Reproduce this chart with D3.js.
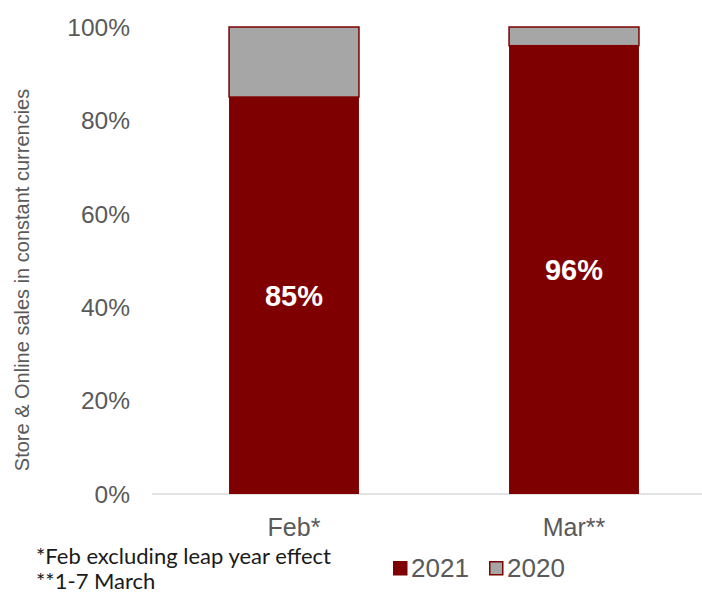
<!DOCTYPE html>
<html>
<head>
<meta charset="utf-8">
<script src="https://cdn.jsdelivr.net/npm/d3@7"></script>
<style>
  body { margin: 0; background: #fff; }
</style>
</head>
<body>
<div id="chart"></div>
<script>
// data
const categories = ["Feb*", "Mar**"];
const share2021 = [0.85, 0.96];
const share2020 = [0.15, 0.04];
const valueLabels = ["85%", "96%"];
const yTicks = [0, 0.2, 0.4, 0.6, 0.8, 1.0];
const seriesNames = ["2021", "2020"];
const footnotes = ["*Feb excluding leap year effect", "**1-7 March"];

const width = 702;
const height = 594;
const red = "#7f0000";
const grey = "#a6a6a6";
const sans = "'Liberation Sans', Arial, sans-serif";

const svg = d3.select("#chart")
  .append("svg")
  .attr("width", width)
  .attr("height", height)
  .style("font-family", sans);

// Scales
const x = d3.scaleBand()
  .domain(categories)
  .range([154, 714])
  .paddingInner(0.536)
  .paddingOuter(0.268);

const y = d3.scaleLinear()
  .domain([0, 1])
  .range([494, 27]);

// baseline
svg.append("line")
  .attr("x1", 152).attr("x2", width)
  .attr("y1", y(0)).attr("y2", y(0))
  .attr("stroke", "#d9d9d9")
  .attr("stroke-width", 1.5);

// y tick labels
svg.append("g")
  .selectAll("text")
  .data(yTicks)
  .enter()
  .append("text")
  .attr("x", 130)
  .attr("y", d => y(d))
  .attr("dy", "0.36em")
  .attr("text-anchor", "end")
  .attr("font-size", "24.5px")
  .attr("fill", "#595959")
  .text(d => d3.format(".0%")(d));

// axis title
svg.append("text")
  .attr("transform", "translate(29, 280) rotate(-90)")
  .attr("text-anchor", "middle")
  .attr("font-size", "20px")
  .attr("fill", "#595959")
  .text("Store & Online sales in constant currencies");

const rows = categories.map((c, i) => ({ cat: c, a: share2021[i], b: share2020[i], label: valueLabels[i] }));

// 2021 segments
svg.append("g")
  .selectAll("rect")
  .data(rows)
  .enter()
  .append("rect")
  .attr("x", d => x(d.cat))
  .attr("y", d => y(d.a))
  .attr("width", x.bandwidth())
  .attr("height", d => y(0) - y(d.a))
  .attr("fill", red);

// 2020 segments
svg.append("g")
  .selectAll("rect")
  .data(rows)
  .enter()
  .append("rect")
  .attr("x", d => x(d.cat))
  .attr("y", d => y(d.a + d.b))
  .attr("width", x.bandwidth())
  .attr("height", d => y(d.a) - y(d.a + d.b))
  .attr("fill", grey)
  .attr("stroke", red)
  .attr("stroke-width", 1.5);

// value labels
svg.append("g")
  .selectAll("text")
  .data(rows)
  .enter()
  .append("text")
  .attr("x", d => x(d.cat) + x.bandwidth() / 2)
  .attr("y", d => (y(0) + y(d.a)) / 2)
  .attr("dy", "0.36em")
  .attr("text-anchor", "middle")
  .attr("font-size", "29px")
  .attr("font-weight", "bold")
  .attr("fill", "#fff")
  .text(d => d.label);

// category labels
svg.append("g")
  .selectAll("text")
  .data(categories)
  .enter()
  .append("text")
  .attr("x", d => x(d) + x.bandwidth() / 2)
  .attr("y", 536)
  .attr("text-anchor", "middle")
  .attr("font-size", "25px")
  .attr("fill", "#595959")
  .text(d => d);

// footnotes
svg.append("g")
  .selectAll("text")
  .data(footnotes)
  .enter()
  .append("text")
  .attr("x", 36)
  .attr("y", (d, i) => 564 + i * 25)
  .style("font-family", "Lato, 'Open Sans', sans-serif")
  .attr("font-size", "22px")
  .attr("fill", "#1a1a1a")
  .text(d => d);

// legend
const legend = svg.append("g")
  .attr("transform", "translate(393, 561)");

const items = legend.selectAll(".legend-item")
  .data(seriesNames)
  .enter()
  .append("g")
  .attr("class", "legend-item")
  .attr("transform", (d, i) => `translate(${i * 96}, 0)`);

items.append("rect")
  .attr("x", 0.75)
  .attr("y", 0.75)
  .attr("width", 13)
  .attr("height", 13)
  .attr("fill", d => d === "2021" ? red : grey)
  .attr("stroke", red)
  .attr("stroke-width", 1.5);

items.append("text")
  .attr("x", 18)
  .attr("y", 16)
  .attr("font-size", "26px")
  .attr("fill", "#595959")
  .text(d => d);
</script>
</body>
</html>
